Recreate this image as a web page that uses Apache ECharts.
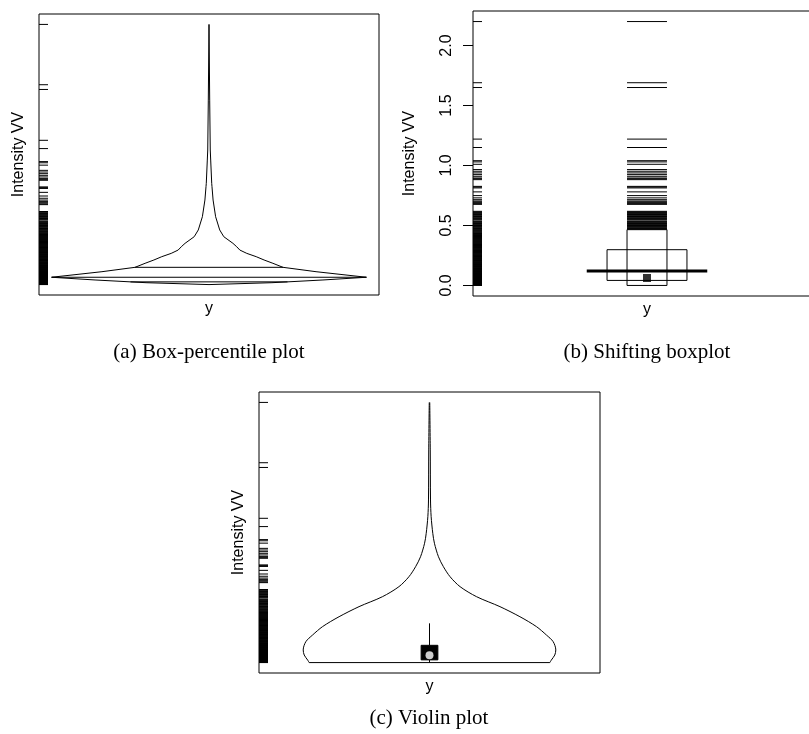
<!DOCTYPE html>
<html>
<head>
<meta charset="utf-8">
<script src="https://cdn.jsdelivr.net/npm/echarts@6/dist/echarts.min.js"></script>
<style>
  html, body { margin: 0; padding: 0; background: #fff; }
  #chart { width: 809px; height: 734px; }
</style>
</head>
<body>
<div id="chart"></div>
<script>
// observed intensities, drawn as rug marks
var rugValues = [
  0.000, 0.002, 0.005, 0.007, 0.009, 0.012, 0.014, 0.016, 0.019, 0.021, 0.023, 0.026,
  0.028, 0.031, 0.033, 0.035, 0.038, 0.040, 0.043, 0.045, 0.048, 0.050, 0.053, 0.055,
  0.058, 0.060, 0.063, 0.066, 0.068, 0.071, 0.074, 0.076, 0.079, 0.082, 0.085, 0.088,
  0.091, 0.094, 0.097, 0.100, 0.103, 0.106, 0.109, 0.112, 0.115, 0.118, 0.121, 0.124,
  0.128, 0.131, 0.134, 0.137, 0.141, 0.144, 0.147, 0.151, 0.154, 0.158, 0.161, 0.165,
  0.168, 0.172, 0.175, 0.179, 0.182, 0.186, 0.190, 0.193, 0.197, 0.201, 0.204, 0.208,
  0.212, 0.215, 0.219, 0.223, 0.226, 0.230, 0.234, 0.238, 0.241, 0.245, 0.249, 0.253,
  0.256, 0.260, 0.264, 0.268, 0.272, 0.275, 0.279, 0.283, 0.287, 0.291, 0.294, 0.298,
  0.302, 0.306, 0.310, 0.314, 0.317, 0.321, 0.325, 0.329, 0.333, 0.337, 0.341, 0.344,
  0.348, 0.352, 0.356, 0.360, 0.364, 0.368, 0.372, 0.376, 0.380, 0.384, 0.388, 0.392,
  0.396, 0.400, 0.404, 0.408, 0.412, 0.416, 0.420, 0.424, 0.428,
  0.433, 0.438, 0.443, 0.448, 0.453, 0.459, 0.464, 0.469, 0.474, 0.479, 0.485, 0.490,
  0.495, 0.500, 0.506, 0.511, 0.516, 0.522, 0.527, 0.532, 0.538, 0.548, 0.553, 0.559,
  0.564, 0.570, 0.575, 0.580, 0.586, 0.591, 0.597, 0.602, 0.607, 0.613, 0.618,
  0.676, 0.682, 0.690, 0.697, 0.704, 0.715, 0.730, 0.749, 0.780, 0.813, 0.820, 0.826,
  0.882, 0.890, 0.896, 0.910, 0.924, 0.938, 0.952, 0.966, 1.010, 1.030, 1.040, 1.150,
  1.220, 1.650, 1.690, 2.200
];

// box-percentile outline: value and its empirical percentile
var bpValue = [0.000, 0.016, 0.039, 0.062, 0.109, 0.146, 0.180, 0.208, 0.236, 0.264, 0.292,
               0.320, 0.349, 0.405, 0.462, 0.574, 0.715, 0.828, 0.856, 1.053, 1.138, 1.560, 2.200];
var bpPct   = [0.000, 0.200, 0.362, 0.500, 0.660, 0.765, 0.797, 0.825, 0.850, 0.880, 0.902,
               0.912, 0.924, 0.953, 0.966, 0.979, 0.987, 0.9905, 0.9914, 0.9946, 0.996, 0.9978, 1.000];

// violin outline: value and relative density
var vioValue   = [0.000, 0.022, 0.064, 0.107, 0.177, 0.233, 0.304, 0.388, 0.473, 0.557,
                  0.642, 0.726, 0.811, 0.895, 1.009, 1.093, 1.234, 1.375, 1.798, 2.200];
var vioDensity = [0.953, 0.965, 0.992, 1.000, 0.979, 0.926, 0.847, 0.716, 0.558, 0.373,
                  0.242, 0.163, 0.110, 0.071, 0.039, 0.026, 0.013, 0.008, 0.006, 0.002];

// summary statistics
var quartiles = [0.023, 0.062, 0.146];   // Q1, median, Q3
var meanValue = 0.121;
var upperWhisker = 0.332;
var shiftInner = [0.000, 0.465];        // shifting boxplot, narrow box
var shiftOuter = [0.042, 0.298];        // shifting boxplot, wide box

var yTicks = [0, 0.5, 1.0, 1.5, 2.0];
var yTickLabels = ['0.0', '0.5', '1.0', '1.5', '2.0'];
var captions = ['(a) Box-percentile plot', '(b) Shifting boxplot', '(c) Violin plot'];

var myChart = echarts.init(document.getElementById('chart'));
var sans = 'Liberation Sans, Arial, sans-serif';
var black = '#000';

function rugRender(params, api) {
  var y = api.coord([0, api.value(1)])[1];
  var x0 = params.coordSys.x;
  return { type: 'line', shape: { x1: x0, y1: y, x2: x0 + 9, y2: y },
           style: { stroke: black, lineWidth: 1 } };
}
function segRender(width) {
  return function (params, api) {
    var p1 = api.coord([api.value(0), api.value(1)]);
    var p2 = api.coord([api.value(2), api.value(3)]);
    return { type: 'line', shape: { x1: p1[0], y1: p1[1], x2: p2[0], y2: p2[1] },
             style: { stroke: black, lineWidth: width } };
  };
}
function rectRender(fill) {
  return function (params, api) {
    var p1 = api.coord([api.value(0), api.value(3)]);
    var p2 = api.coord([api.value(2), api.value(1)]);
    return { type: 'rect', shape: { x: p1[0], y: p1[1], width: p2[0] - p1[0], height: p2[1] - p1[1] },
             style: { stroke: black, lineWidth: 1, fill: fill } };
  };
}

// box-percentile polygon
function bpHalf(i) { return 2 * Math.min(bpPct[i], 1 - bpPct[i]); }
function bpHalfAt(v) {
  for (var k = 1; k < bpValue.length; k++) {
    if (v <= bpValue[k]) {
      var t = (v - bpValue[k - 1]) / (bpValue[k] - bpValue[k - 1]);
      return bpHalf(k - 1) + t * (bpHalf(k) - bpHalf(k - 1));
    }
  }
  return 0;
}
var bpPoly = [];
for (var i = 0; i < bpValue.length; i++) bpPoly.push([bpHalf(i), bpValue[i]]);
for (var i = bpValue.length - 1; i >= 0; i--) bpPoly.push([-bpHalf(i), bpValue[i]]);
bpPoly.push(bpPoly[0]);
var bpLines = quartiles.map(function (q) {
  var w = bpHalfAt(q);
  return [-w, q, w, q];
});

// violin sides
var vioHalf = 0.80;
var vioRight = vioValue.map(function (v, i) { return [vioHalf * vioDensity[i], v]; });
var vioLeft = vioValue.map(function (v, i) { return [-vioHalf * vioDensity[i], v]; });
var vioBottom = [[-vioHalf * vioDensity[0], vioValue[0], vioHalf * vioDensity[0], vioValue[0]]];

var rugData = rugValues.map(function (v) { return [0, v]; });
var midRug = rugValues.filter(function (v) { return v > shiftInner[1]; })
  .map(function (v) { return [-0.124, v, 0.124, v]; });

function yAxisBase(gi, labelled) {
  return {
    type: 'value', gridIndex: gi, min: -0.088, max: 2.288,
    name: 'Intensity VV', nameLocation: 'middle', nameGap: labelled ? 55 : 12,
    nameTextStyle: { fontFamily: sans, fontSize: 16, color: black },
    axisLine: { show: false, onZero: false }, splitLine: { show: false },
    axisTick: { show: labelled, length: 10, lineStyle: { color: black }, customValues: yTicks },
    axisLabel: {
      show: labelled, rotate: 90, margin: 18, fontFamily: sans, fontSize: 16, color: black,
      customValues: yTicks,
      formatter: function (v) { return yTickLabels[yTicks.indexOf(v)] || ''; }
    }
  };
}
function xAxisBase(gi) {
  return {
    type: 'value', gridIndex: gi, min: -1.08, max: 1.08,
    name: 'y', nameLocation: 'middle', nameGap: 6,
    nameTextStyle: { fontFamily: sans, fontSize: 16, color: black, verticalAlign: 'top' },
    axisLine: { show: false, onZero: false }, axisTick: { show: false }, axisLabel: { show: false },
    splitLine: { show: false }
  };
}

var lineStyle = { color: black, width: 1 };
var gridBase = { show: true, borderColor: black, borderWidth: 1, outerBoundsMode: 'none', containLabel: false };

var option = {
  animation: false,
  backgroundColor: '#fff',
  grid: [
    Object.assign({ left: 39, top: 14, width: 340, height: 281 }, gridBase),
    Object.assign({ left: 473, top: 11, width: 348, height: 285 }, gridBase),
    Object.assign({ left: 259, top: 392, width: 341, height: 281 }, gridBase)
  ],
  xAxis: [xAxisBase(0), xAxisBase(1), xAxisBase(2)],
  yAxis: [yAxisBase(0, false), yAxisBase(1, true), yAxisBase(2, false)],
  graphic: captions.map(function (t, i) {
    var pos = [[209, 352], [647, 352], [429, 718]][i];
    return { type: 'text', x: pos[0], y: pos[1],
             style: { text: t, align: 'center', verticalAlign: 'middle', fill: black,
                      fontFamily: 'Liberation Serif, serif', fontSize: 21 } };
  }),
  series: [
    // (a) box-percentile plot
    { type: 'custom', xAxisIndex: 0, yAxisIndex: 0, renderItem: rugRender, data: rugData },
    { type: 'line', xAxisIndex: 0, yAxisIndex: 0, data: bpPoly, showSymbol: false, lineStyle: lineStyle },
    { type: 'custom', xAxisIndex: 0, yAxisIndex: 0, renderItem: segRender(1), data: bpLines },

    // (b) shifting boxplot
    { type: 'custom', xAxisIndex: 1, yAxisIndex: 1, renderItem: rugRender, data: rugData },
    { type: 'custom', xAxisIndex: 1, yAxisIndex: 1, renderItem: segRender(1), data: midRug },
    { type: 'custom', xAxisIndex: 1, yAxisIndex: 1, renderItem: rectRender('none'),
      data: [[-0.124, shiftInner[0], 0.124, shiftInner[1]], [-0.248, shiftOuter[0], 0.248, shiftOuter[1]]] },
    { type: 'custom', xAxisIndex: 1, yAxisIndex: 1, renderItem: segRender(3),
      data: [[-0.374, meanValue, 0.374, meanValue]] },
    { type: 'scatter', xAxisIndex: 1, yAxisIndex: 1, symbol: 'rect', symbolSize: 8,
      itemStyle: { color: black }, data: [[0, quartiles[1]]] },

    // (c) violin plot
    { type: 'custom', xAxisIndex: 2, yAxisIndex: 2, renderItem: rugRender, data: rugData },
    { type: 'line', xAxisIndex: 2, yAxisIndex: 2, data: vioRight, smooth: 0.3, showSymbol: false, lineStyle: lineStyle },
    { type: 'line', xAxisIndex: 2, yAxisIndex: 2, data: vioLeft, smooth: 0.3, showSymbol: false, lineStyle: lineStyle },
    { type: 'custom', xAxisIndex: 2, yAxisIndex: 2, renderItem: segRender(1),
      data: vioBottom.concat([[0, quartiles[2], 0, upperWhisker], [0, 0, 0, quartiles[0]]]) },
    { type: 'custom', xAxisIndex: 2, yAxisIndex: 2, renderItem: rectRender(black),
      data: [[-0.053, quartiles[0], 0.053, quartiles[2]]] },
    { type: 'scatter', xAxisIndex: 2, yAxisIndex: 2, symbol: 'circle', symbolSize: 8,
      itemStyle: { color: '#fff' }, data: [[0, quartiles[1]]] }
  ]
};
option && myChart.setOption(option);
</script>
</body>
</html>
